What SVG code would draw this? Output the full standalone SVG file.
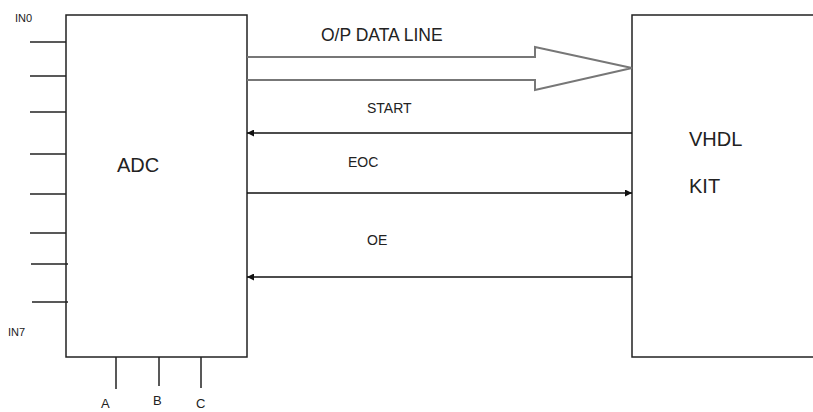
<svg xmlns="http://www.w3.org/2000/svg" width="813" height="412" viewBox="0 0 813 412">
<defs>
<marker id="ah" viewBox="0 0 10 10" refX="10" refY="5" markerWidth="9" markerHeight="7" markerUnits="userSpaceOnUse" orient="auto">
<path d="M0,0 L10,5 L0,10 z" fill="#111"/>
</marker>
</defs>
<style>
.box{fill:#fff;stroke:#222;stroke-width:1.5}
.pin{stroke:#222;stroke-width:1.5;fill:none}
.sig{stroke:#111;stroke-width:1.5;fill:none;marker-end:url(#ah)}
.t{font-family:"Liberation Sans",Arial,sans-serif;fill:#222}
</style>
<rect width="813" height="412" fill="#fff"/>
<g id="adc">
<rect class="box" x="66" y="15" width="181" height="342"/>
<text class="t" x="117" y="172" font-size="20">ADC</text>
</g>
<g id="inputs">
<line class="pin" x1="30" y1="42" x2="66" y2="42"/>
<line class="pin" x1="30" y1="76" x2="66" y2="76"/>
<line class="pin" x1="30" y1="112" x2="66" y2="112"/>
<line class="pin" x1="30" y1="154" x2="66" y2="154"/>
<line class="pin" x1="30" y1="194" x2="66" y2="194"/>
<line class="pin" x1="30" y1="233" x2="66" y2="233"/>
<line class="pin" x1="31" y1="264" x2="68" y2="264"/>
<line class="pin" x1="32" y1="302" x2="68" y2="302"/>
<text class="t" x="15" y="22" font-size="11">IN0</text>
<text class="t" x="8" y="336" font-size="11">IN7</text>
</g>
<g id="selects">
<line class="pin" x1="116" y1="357" x2="116" y2="389"/>
<line class="pin" x1="159" y1="357" x2="159" y2="386"/>
<line class="pin" x1="201" y1="357" x2="201" y2="388"/>
<text class="t" x="101" y="408" font-size="13">A</text>
<text class="t" x="153" y="405" font-size="13">B</text>
<text class="t" x="196" y="408" font-size="13">C</text>
</g>
<g id="vhdl">
<rect class="box" x="632" y="15" width="190" height="342"/>
<text class="t" x="689" y="146" font-size="20">VHDL</text>
<text class="t" x="689" y="193" font-size="20">KIT</text>
</g>
<g id="connectors">
<path d="M247,57 H535 V47 L632,68 L535,90 V80 H247" fill="none" stroke="#777" stroke-width="2"/>
<line class="sig" x1="632" y1="133" x2="247" y2="133"/>
<line class="sig" x1="247" y1="193" x2="632" y2="193"/>
<line class="sig" x1="632" y1="277" x2="247" y2="277"/>
<text class="t" x="321" y="41" font-size="17.5">O/P DATA LINE</text>
<text class="t" x="367" y="113" font-size="14">START</text>
<text class="t" x="348" y="167" font-size="14">EOC</text>
<text class="t" x="367" y="245" font-size="14">OE</text>
</g>
</svg>
